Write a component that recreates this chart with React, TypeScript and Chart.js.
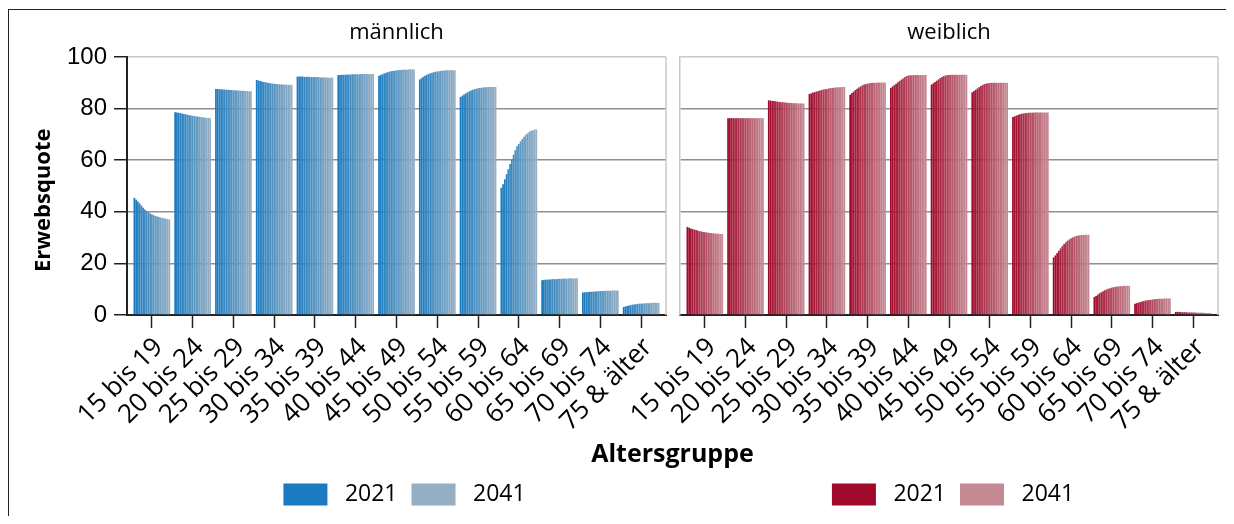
import React, { useEffect, useRef } from 'react';
import { Chart, registerables } from 'chart.js';

Chart.register(...registerables);

const ageGroups = [
  '15 bis 19', '20 bis 24', '25 bis 29', '30 bis 34', '35 bis 39', '40 bis 44', '45 bis 49',
  '50 bis 54', '55 bis 59', '60 bis 64', '65 bis 69', '70 bis 74', '75 & älter',
];

const years = [
  '2021', '2022', '2023', '2024', '2025', '2026', '2027', '2028', '2029', '2030', '2031',
  '2032', '2033', '2034', '2035', '2036', '2037', '2038', '2039', '2040', '2041',
];

const yTicks = [0, 20, 40, 60, 80, 100];

// männlich, values per year 2021..2041
const m15_19 = [45.4, 44.7, 44.0, 43.2, 42.4, 41.6, 40.9, 40.3, 39.8, 39.4, 39.0, 38.7, 38.4, 38.2, 38.0, 37.8, 37.6, 37.5, 37.3, 37.2, 37.0];
const m20_24 = [78.6, 78.5, 78.4, 78.2, 78.1, 77.9, 77.8, 77.6, 77.5, 77.3, 77.2, 77.1, 77.0, 76.9, 76.8, 76.7, 76.6, 76.5, 76.4, 76.4, 76.3];
const m25_29 = [87.6, 87.6, 87.5, 87.5, 87.4, 87.4, 87.3, 87.3, 87.2, 87.2, 87.1, 87.1, 87.0, 87.0, 86.9, 86.9, 86.9, 86.8, 86.8, 86.7, 86.7];
const m30_34 = [91.1, 90.9, 90.7, 90.5, 90.3, 90.2, 90.0, 89.9, 89.8, 89.7, 89.6, 89.5, 89.5, 89.4, 89.4, 89.3, 89.3, 89.3, 89.2, 89.2, 89.2];
const m35_39 = [92.4, 92.4, 92.4, 92.4, 92.3, 92.3, 92.3, 92.3, 92.2, 92.2, 92.2, 92.2, 92.2, 92.1, 92.1, 92.1, 92.1, 92.0, 92.0, 92.0, 92.0];
const m40_44 = [93.0, 93.0, 93.1, 93.1, 93.1, 93.2, 93.2, 93.2, 93.3, 93.3, 93.3, 93.3, 93.3, 93.4, 93.4, 93.4, 93.4, 93.4, 93.4, 93.4, 93.4];
const m45_49 = [92.7, 93.0, 93.3, 93.6, 93.9, 94.1, 94.3, 94.5, 94.6, 94.7, 94.8, 94.9, 95.0, 95.0, 95.1, 95.1, 95.1, 95.2, 95.2, 95.2, 95.2];
const m50_54 = [91.3, 91.8, 92.3, 92.7, 93.1, 93.4, 93.7, 93.9, 94.1, 94.3, 94.4, 94.5, 94.6, 94.7, 94.8, 94.8, 94.9, 94.9, 94.9, 94.9, 94.9];
const m55_59 = [84.5, 85.0, 85.5, 85.9, 86.3, 86.7, 87.0, 87.3, 87.5, 87.7, 87.9, 88.0, 88.1, 88.2, 88.3, 88.3, 88.4, 88.4, 88.4, 88.4, 88.4];
const m60_64 = [49.3, 50.7, 52.6, 54.6, 56.5, 58.5, 60.4, 62.1, 63.9, 65.4, 66.3, 67.3, 68.2, 69.1, 69.9, 70.4, 71.0, 71.4, 71.6, 71.9, 71.9];
const m65_69 = [13.5, 13.6, 13.7, 13.7, 13.8, 13.8, 13.9, 13.9, 13.9, 14.0, 14.0, 14.0, 14.1, 14.1, 14.1, 14.1, 14.2, 14.2, 14.2, 14.2, 14.2];
const m70_74 = [8.7, 8.8, 8.9, 8.9, 9.0, 9.0, 9.1, 9.1, 9.2, 9.2, 9.3, 9.3, 9.3, 9.4, 9.4, 9.4, 9.4, 9.5, 9.5, 9.5, 9.5];
const m75plus = [3.1, 3.3, 3.5, 3.7, 3.8, 4.0, 4.1, 4.2, 4.3, 4.4, 4.4, 4.5, 4.5, 4.6, 4.6, 4.6, 4.7, 4.7, 4.7, 4.7, 4.7];

// weiblich, values per year 2021..2041
const f15_19 = [34.1, 33.8, 33.5, 33.3, 33.1, 32.9, 32.7, 32.5, 32.4, 32.2, 32.1, 32.0, 31.9, 31.8, 31.7, 31.6, 31.6, 31.5, 31.5, 31.4, 31.4];
const f20_24 = [76.3, 76.3, 76.3, 76.3, 76.3, 76.3, 76.3, 76.3, 76.3, 76.3, 76.3, 76.3, 76.3, 76.3, 76.3, 76.3, 76.3, 76.3, 76.3, 76.3, 76.3];
const f25_29 = [83.2, 83.1, 83.0, 82.9, 82.8, 82.7, 82.6, 82.5, 82.5, 82.4, 82.3, 82.3, 82.2, 82.2, 82.1, 82.1, 82.1, 82.0, 82.0, 82.0, 82.0];
const f30_34 = [85.7, 85.9, 86.2, 86.4, 86.6, 86.8, 87.0, 87.2, 87.4, 87.5, 87.6, 87.8, 87.9, 88.0, 88.1, 88.2, 88.2, 88.3, 88.3, 88.4, 88.4];
const f35_39 = [85.4, 86.0, 86.6, 87.2, 87.7, 88.2, 88.6, 89.0, 89.3, 89.5, 89.7, 89.8, 89.9, 90.0, 90.0, 90.0, 90.1, 90.1, 90.1, 90.1, 90.1];
const f40_44 = [88.0, 88.6, 89.1, 89.6, 90.2, 90.7, 91.2, 91.7, 92.2, 92.6, 92.8, 92.9, 92.9, 93.0, 93.0, 93.0, 93.0, 93.0, 93.0, 93.0, 93.0];
const f45_49 = [89.3, 89.8, 90.3, 90.8, 91.3, 91.8, 92.2, 92.6, 92.8, 93.0, 93.0, 93.1, 93.1, 93.1, 93.1, 93.1, 93.1, 93.1, 93.1, 93.1, 93.1];
const f50_54 = [86.3, 86.8, 87.3, 87.8, 88.3, 88.8, 89.2, 89.5, 89.7, 89.8, 89.9, 90.0, 90.0, 90.0, 90.0, 90.0, 90.0, 90.0, 90.0, 90.0, 90.0];
const f55_59 = [76.7, 77.0, 77.3, 77.6, 77.8, 78.0, 78.1, 78.2, 78.3, 78.4, 78.4, 78.4, 78.5, 78.5, 78.5, 78.5, 78.5, 78.5, 78.5, 78.5, 78.5];
const f60_64 = [22.3, 23.1, 24.0, 24.9, 25.8, 26.7, 27.5, 28.2, 28.8, 29.3, 29.7, 30.1, 30.4, 30.6, 30.8, 30.9, 31.0, 31.0, 31.1, 31.1, 31.1];
const f65_69 = [7.0, 7.4, 7.9, 8.4, 8.8, 9.2, 9.6, 9.9, 10.2, 10.4, 10.6, 10.8, 10.9, 11.0, 11.1, 11.2, 11.2, 11.3, 11.3, 11.3, 11.3];
const f70_74 = [4.4, 4.6, 4.8, 5.0, 5.2, 5.4, 5.6, 5.7, 5.8, 5.9, 6.0, 6.1, 6.2, 6.2, 6.3, 6.3, 6.3, 6.4, 6.4, 6.4, 6.4];
const f75plus = [1.2, 1.2, 1.2, 1.1, 1.1, 1.1, 1.1, 1.0, 1.0, 1.0, 1.0, 1.0, 0.9, 0.9, 0.9, 0.9, 0.9, 0.8, 0.8, 0.8, 0.8];

const maleGroups = [m15_19, m20_24, m25_29, m30_34, m35_39, m40_44, m45_49, m50_54, m55_59, m60_64, m65_69, m70_74, m75plus];
const femaleGroups = [f15_19, f20_24, f25_29, f30_34, f35_39, f40_44, f45_49, f50_54, f55_59, f60_64, f65_69, f70_74, f75plus];

const BLUE_FROM = [26, 123, 192];
const BLUE_TO = [148, 174, 195];
const RED_FROM = [160, 10, 42];
const RED_TO = [196, 138, 148];

const FONT = '"Open Sans", "DejaVu Sans", sans-serif';
const NUM_FONT = '"Liberation Sans", Arial, sans-serif';
const DARK = '#222222';
const GRID = '#8f8f8f';
const LIGHT = '#c8c8c8';

function mix(a: number[], b: number[], t: number) {
  const c = a.map((v, i) => Math.round(v + (b[i] - v) * t));
  return `rgb(${c[0]},${c[1]},${c[2]})`;
}

const rightEdge = {
  id: 'rightEdge',
  beforeDatasetsDraw(chart: any) {
    const { ctx, chartArea } = chart;
    ctx.save();
    ctx.strokeStyle = LIGHT;
    ctx.lineWidth = 1.5;
    ctx.beginPath();
    ctx.moveTo(chartArea.right, chartArea.top);
    ctx.lineTo(chartArea.right, chartArea.bottom);
    ctx.stroke();
    ctx.restore();
  },
};

// nudges the legend block horizontally after layout
const legendShift = {
  id: 'legendShift',
  afterLayout(chart: any, _args: any, options: any) {
    const lg = chart.legend;
    const dx = (options && options.dx) || 0;
    if (lg && dx) {
      lg.left += dx;
      lg.right += dx;
    }
  },
};

function buildConfig(opts: {
  title: string;
  groups: number[][];
  from: number[];
  to: number[];
  first: boolean;
  yWidth: number;
  padRight: number;
  legendDx: number;
}): any {
  const { title, groups, from, to, first, yWidth, padRight, legendDx } = opts;
  const n = years.length;
  const datasets = years.map((yr, j) => ({
    label: ' ' + yr,
    data: groups.map((g, i) => ({ x: i, y: g[j] })),
    backgroundColor: mix(from, to, j / (n - 1)),
    borderWidth: 0,
    categoryPercentage: 0.9,
    barPercentage: 1,
  }));
  return {
    type: 'bar',
    data: { datasets },
    plugins: [rightEdge, legendShift],
    options: {
      animation: false,
      responsive: false,
      maintainAspectRatio: false,
      events: [],
      layout: { padding: { left: 0, right: padRight, top: 0, bottom: 0 } },
      plugins: {
        legendShift: { dx: legendDx },
        title: {
          display: true,
          text: title,
          fullSize: false,
          color: '#000',
          font: { family: FONT, size: 22, weight: 'normal' },
          padding: { top: 12, bottom: 10.6 },
        },
        legend: {
          position: 'bottom',
          fullSize: false,
          labels: {
            boxWidth: 44,
            boxHeight: 22,
            padding: 14,
            color: '#000',
            font: { family: FONT, size: 23 },
            filter: (item: any) => item.datasetIndex === 0 || item.datasetIndex === n - 1,
          },
        },
        tooltip: { enabled: false },
      },
      scales: {
        x: {
          type: 'linear',
          min: -0.61,
          max: 12.61,
          offset: false,
          afterBuildTicks: (scale: any) => {
            scale.ticks = ageGroups.map((_, i) => ({ value: i }));
          },
          afterFit: (scale: any) => {
            scale.height = 154;
          },
          ticks: {
            autoSkip: false,
            includeBounds: false,
            maxRotation: 45,
            minRotation: 45,
            padding: 4,
            labelOffset: 7,
            color: '#000',
            font: { family: FONT, size: 26 },
            callback: (v: any) => ageGroups[v] ?? '',
          },
          grid: {
            display: true,
            offset: false,
            drawOnChartArea: false,
            drawTicks: true,
            tickLength: 13,
            tickColor: DARK,
            tickWidth: 1.5,
          },
          border: { display: true, color: DARK, width: 2 },
        },
        y: {
          min: 0,
          max: 100,
          afterBuildTicks: (scale: any) => {
            scale.ticks = yTicks.map((v) => ({ value: v }));
          },
          afterFit: (scale: any) => {
            scale.width = yWidth;
          },
          title: {
            display: first,
            text: 'Erwebsquote\u00a0\u00a0\u00a0\u00a0\u00a0',
            color: '#000',
            font: { family: FONT, size: 22, weight: 'bold' },
            padding: { top: 23, bottom: 0 },
          },
          ticks: {
            display: first,
            padding: 7,
            color: '#000',
            font: { family: NUM_FONT, size: 24 },
          },
          grid: {
            display: true,
            drawOnChartArea: true,
            drawTicks: first,
            tickLength: first ? 13 : 0,
            tickColor: DARK,
            tickWidth: 1.5,
            lineWidth: 1.5,
            color: (ctx: any) => {
              const v = ctx.tick ? ctx.tick.value : null;
              if (v === 100) return LIGHT;
              if (v === 0) return DARK;
              return GRID;
            },
          },
          border: { display: true, color: first ? DARK : LIGHT, width: first ? 2 : 1.5 },
        },
      },
    },
  };
}

export default function App() {
  const leftRef = useRef<HTMLCanvasElement | null>(null);
  const rightRef = useRef<HTMLCanvasElement | null>(null);

  useEffect(() => {
    const charts: Chart[] = [];
    if (leftRef.current) {
      charts.push(
        new Chart(
          leftRef.current,
          buildConfig({ title: 'männlich', groups: maleGroups, from: BLUE_FROM, to: BLUE_TO, first: true, yWidth: 119, padRight: 6, legendDx: 8 })
        )
      );
    }
    if (rightRef.current) {
      charts.push(
        new Chart(
          rightRef.current,
          buildConfig({ title: 'weiblich', groups: femaleGroups, from: RED_FROM, to: RED_TO, first: false, yWidth: 108, padRight: 8, legendDx: 4 })
        )
      );
    }
    return () => charts.forEach((c) => c.destroy());
  }, []);

  return (
    <div style={{ position: 'relative', width: 1218, height: 508 }}>
      <div
        style={{
          position: 'absolute',
          left: 0,
          top: 1,
          width: 1225,
          height: 507,
          borderTop: `1.5px solid ${DARK}`,
          borderLeft: `1.5px solid ${DARK}`,
          boxSizing: 'border-box',
        }}
      />
      <canvas
        ref={leftRef}
        width={664}
        height={508}
        style={{ position: 'absolute', left: 0, top: 0, width: 664, height: 508 }}
      />
      <canvas
        ref={rightRef}
        width={654}
        height={508}
        style={{ position: 'absolute', left: 564, top: 0, width: 654, height: 508 }}
      />
      <div
        style={{
          position: 'absolute',
          left: 119,
          top: 430,
          width: 1091,
          textAlign: 'center',
          fontFamily: FONT,
          fontWeight: 'bold',
          fontSize: 25,
          lineHeight: '28px',
          color: '#000',
          pointerEvents: 'none',
        }}
      >
        Altersgruppe
      </div>
    </div>
  );
}
